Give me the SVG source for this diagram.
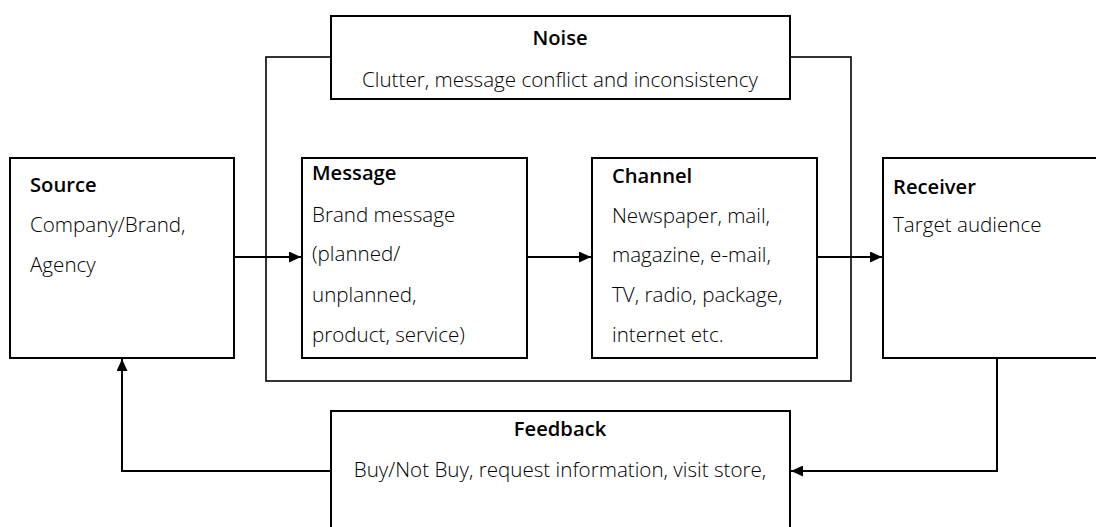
<svg xmlns="http://www.w3.org/2000/svg" width="1096" height="527" viewBox="0 0 1096 527">
  <defs>
    <marker id="arrow" viewBox="0 0 12 11" refX="12" refY="5.5" markerWidth="12" markerHeight="11" markerUnits="userSpaceOnUse" orient="auto">
      <path d="M0,0 L12,5.5 L0,11 Z" fill="#000"/>
    </marker>
    <style>
      .box { fill: #fff; stroke: #000; stroke-width: 2; }
      .frame { fill: none; stroke: #111; stroke-width: 1.7; }
      .link { fill: none; stroke: #000; stroke-width: 2; marker-end: url(#arrow); }
      text { font-family: "Open Sans", "Noto Sans", "Liberation Sans", sans-serif; font-size: 20.6px; font-weight: 300; fill: #000; }
      .title { font-weight: 600; font-size: 20.2px; }
      .mid { text-anchor: middle; }
    </style>
  </defs>
  <rect width="1096" height="527" fill="#fff"/>

  <!-- noise frame surrounding message and channel -->
  <rect class="frame" x="266" y="57" width="585" height="324"/>

  <g id="connectors">
    <path class="link" d="M234,257 H301"/>
    <path class="link" d="M527,257 H591"/>
    <path class="link" d="M817,257 H882"/>
    <path class="link" d="M997,358 V471 H791"/>
    <path class="link" d="M331,471 H122 V359"/>
  </g>

  <g id="noise">
    <rect class="box" x="331" y="16" width="459" height="83"/>
    <text class="title mid" x="560" y="45">Noise</text>
    <text class="mid" x="560" y="87">Clutter, message conflict and inconsistency</text>
  </g>

  <g id="source">
    <rect class="box" x="10" y="158" width="224" height="200"/>
    <text class="title" x="30" y="192">Source</text>
    <text x="30" y="232">Company/Brand,</text>
    <text x="30" y="272">Agency</text>
  </g>

  <g id="message">
    <rect class="box" x="302" y="158" width="225" height="200"/>
    <text class="title" x="312" y="180">Message</text>
    <text x="312" y="222">Brand message</text>
    <text x="312" y="261">(planned/</text>
    <text x="312" y="302">unplanned,</text>
    <text x="312" y="342">product, service)</text>
  </g>

  <g id="channel">
    <rect class="box" x="592" y="158" width="225" height="200"/>
    <text class="title" x="612" y="183">Channel</text>
    <text x="612" y="223">Newspaper, mail,</text>
    <text x="612" y="262">magazine, e-mail,</text>
    <text x="612" y="302">TV, radio, package,</text>
    <text x="612" y="342">internet etc.</text>
  </g>

  <g id="receiver">
    <rect class="box" x="883" y="158" width="230" height="200"/>
    <text class="title" x="893" y="194">Receiver</text>
    <text x="893" y="232">Target audience</text>
  </g>

  <g id="feedback">
    <rect class="box" x="331" y="411" width="459" height="130"/>
    <text class="title mid" x="560" y="436">Feedback</text>
    <text class="mid" x="560" y="477">Buy/Not Buy, request information, visit store,</text>
  </g>
</svg>
